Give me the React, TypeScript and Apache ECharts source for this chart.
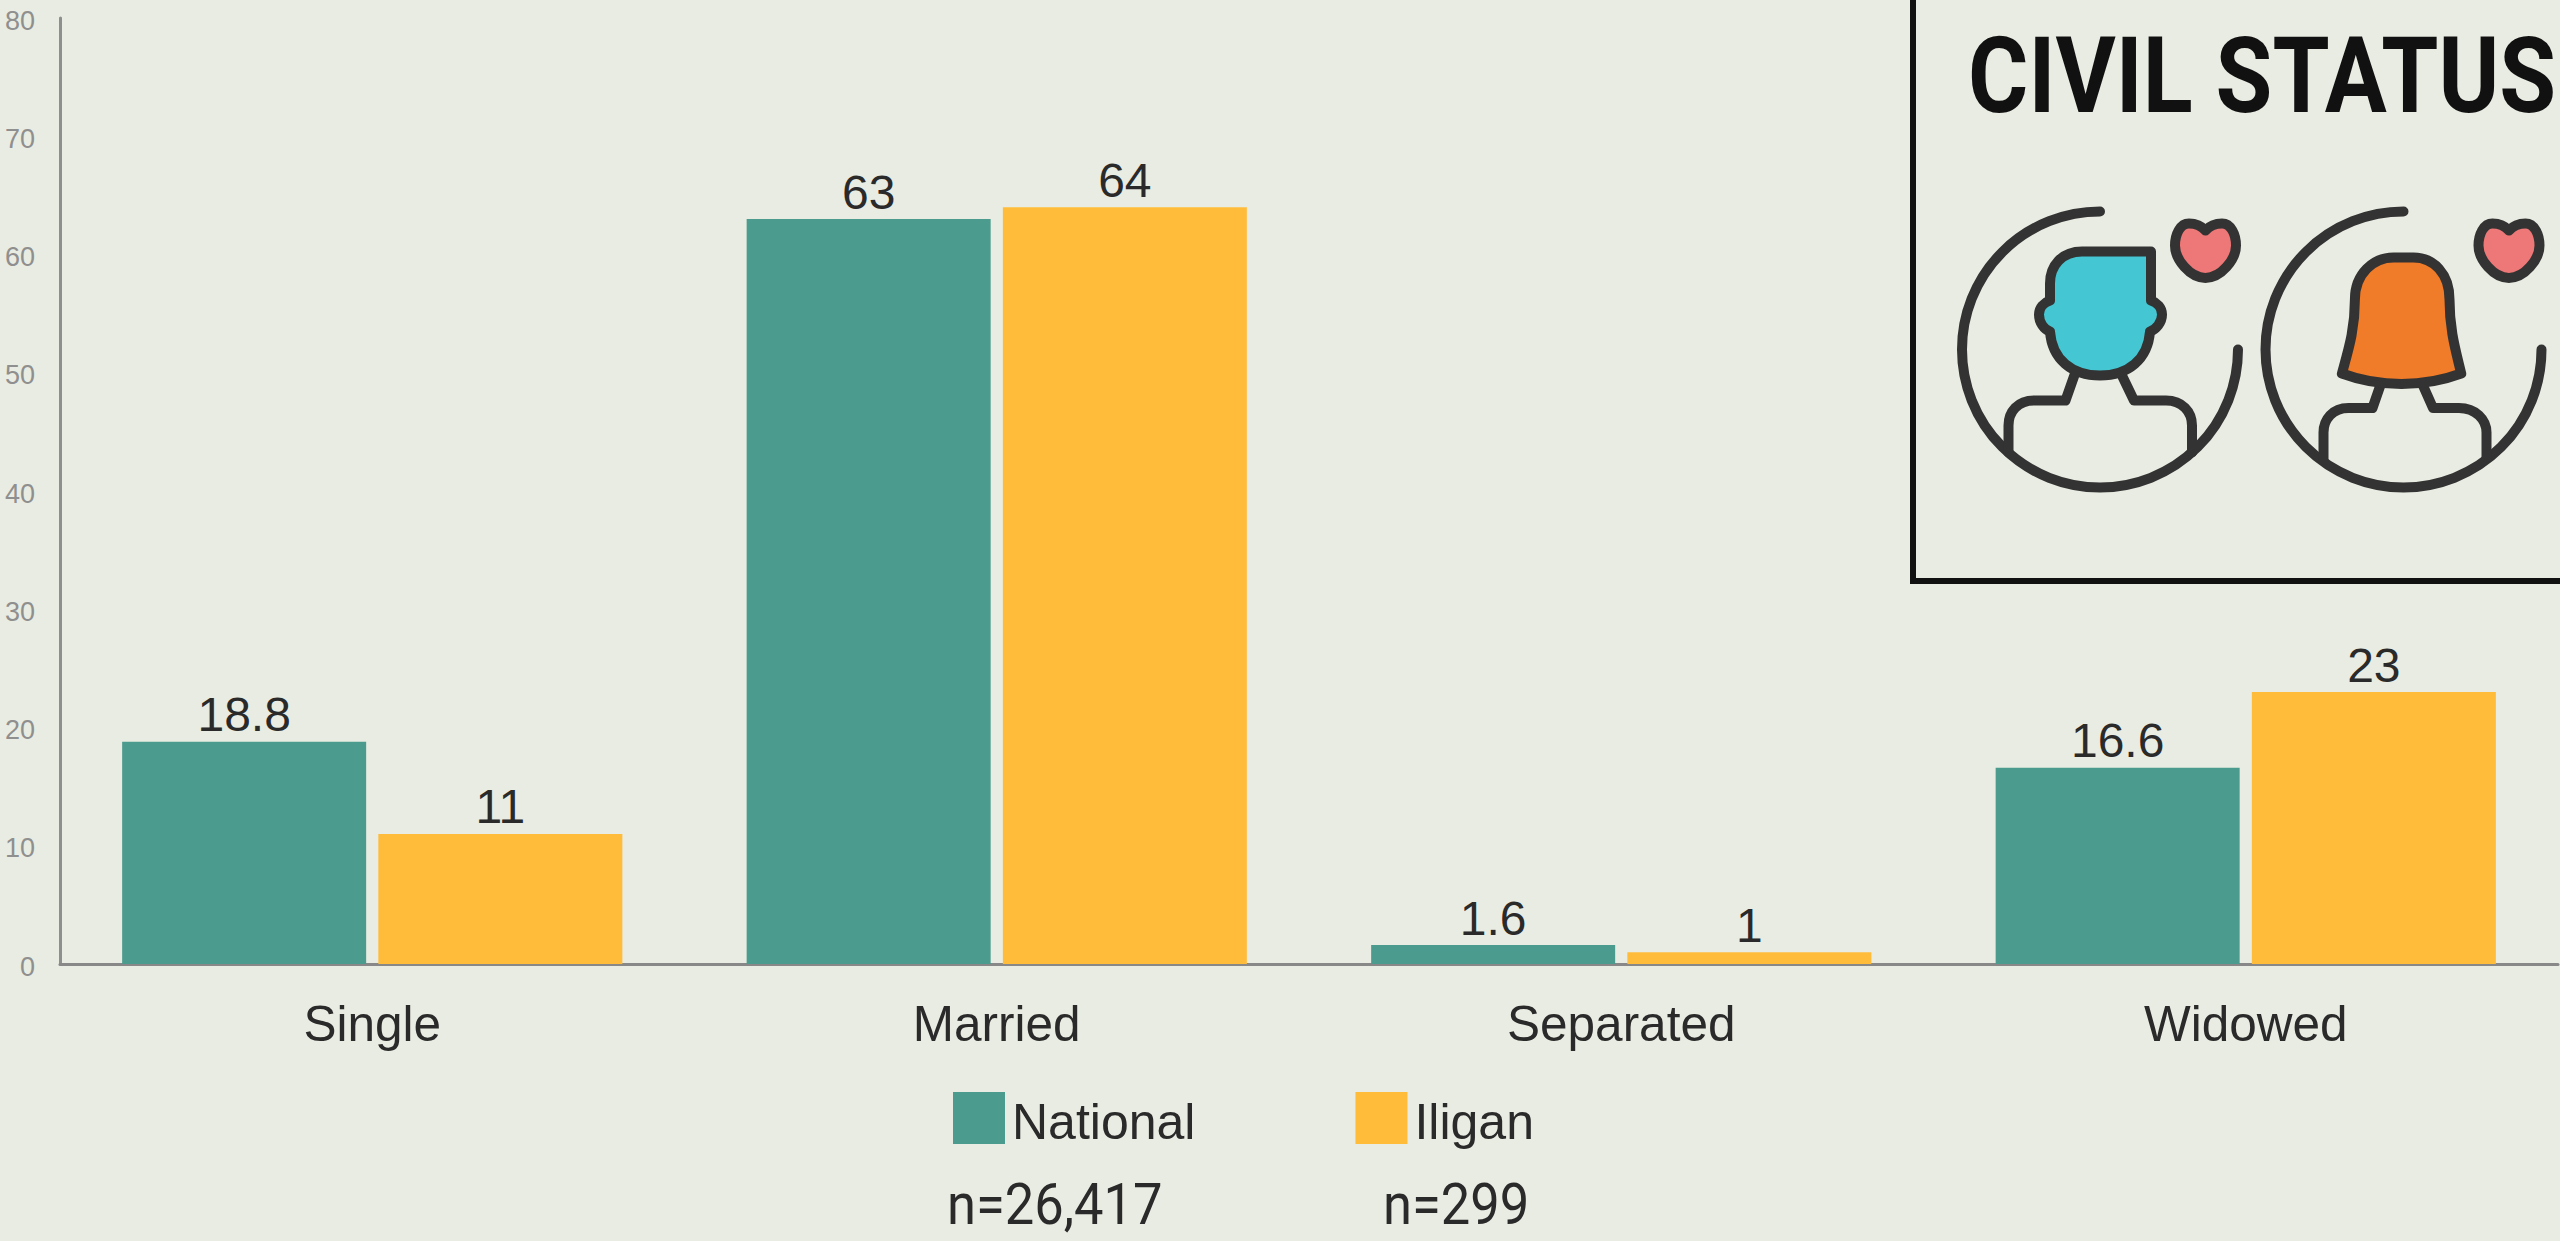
import React, { useEffect, useRef } from "react";
import * as echarts from "echarts";

const categories = ["Single", "Married", "Separated", "Widowed"];
const nationalValues = [18.8, 63, 1.6, 16.6];
const iliganValues = [11, 64, 1, 23];
const seriesNames = ["National", "Iligan"];
const sampleLabels = ["n=26,417", "n=299"];
const titleText = "CIVIL STATUS";

const BG = "#E9ECE2";
const TEAL = "#4B9C8E";
const YELLOW = "#FFBC3A";
const INK = "#333333";

const ring = "M0 -138 A138 138 0 1 0 138 0";
const heart = "M105.4 -119 C101 -124 95 -126 89 -126 C80 -126 75 -115 75 -104 C75 -90 90 -71.6 105.4 -71.6 C121 -71.6 136 -90 136 -104 C136 -115 131 -126 122 -126 C116 -126 110 -124 105.4 -119 Z";
const manHead = "M51 -98 L-18 -98 C-38 -98 -50 -84 -50 -66 L-50 -49 C-56 -47 -61 -42 -61 -35 C-61 -27 -56 -20 -50 -18 C-48 10 -28 26 0 26 C28 26 48 10 50 -18 C56 -20 62 -27 62 -35 C62 -42 57 -47 51 -49 Z";
const manBody = "M-25 24 L-34.5 51 L-66 51 C-82 51 -91.5 62 -91.5 76 L-91.5 103 M21 24 L34 51 L66 51 C82 51 92 62 92 76 L92 103";
const womanHair = "M-48.6 -50 C-48.6 -76 -30 -92 -10 -92 L10 -92 C30 -92 46 -76 46 -50 C46 -20 52 0 57.7 24 C20 38 -24 38 -61.6 24 C-55 0 -48.6 -20 -48.6 -50 Z";
const womanBody = "M-22.5 34 L-31 58.5 L-55 58.5 C-71 58.5 -80 70 -80 83 L-80 110 M18.6 34 L29.5 58.5 L55.5 58.5 C72 58.5 83 70 83 83 L83 108";

const shapes: Record<string, string> = {
  iconRing: ring,
  iconHeart: heart,
  iconManHead: manHead,
  iconManBody: manBody,
  iconWomanHair: womanHair,
  iconWomanBody: womanBody,
};
Object.keys(shapes).forEach((name) => {
  echarts.graphic.registerShape(name, echarts.graphic.extendPath(shapes[name], {}));
});

function icon(cx: number, cy: number, parts: [string, string][]) {
  return {
    type: "group",
    x: cx,
    y: cy,
    silent: true,
    children: parts.map(([type, fill]) => ({
      type,
      style: { fill, stroke: INK, lineWidth: 10, lineCap: "round", lineJoin: "round" },
    })),
  };
}

export default function App() {
  const ref = useRef<HTMLDivElement>(null);
  useEffect(() => {
    document.body.style.margin = "0";
    document.body.style.background = BG;
    const chart = echarts.init(ref.current!, undefined, { renderer: "svg" });
    const labelStyle = {
      show: true,
      position: "top" as const,
      distance: 3,
      fontSize: 48,
      color: "#2a2a2a",
      fontFamily: "Liberation Sans",
    };
    chart.setOption({
      animation: false,
      backgroundColor: BG,
      grid: { left: 60, top: 18, width: 2498, height: 946, containLabel: false },
      legend: {
        left: 948,
        top: 1087,
        itemWidth: 52,
        itemHeight: 52,
        itemGap: 160,
        icon: "rect",
        selectedMode: false,
        data: seriesNames,
        formatter: (name: string) => `{a|${name}}`,
        textStyle: {
          rich: {
            a: {
              fontSize: 50,
              color: "#2a2a2a",
              fontFamily: "Liberation Sans",
              padding: [8, 0, 0, 2],
            },
          },
        },
      },
      xAxis: {
        type: "category",
        data: categories,
        axisTick: { show: false },
        axisLine: { lineStyle: { color: "#888888", width: 3 } },
        axisLabel: { fontSize: 49.5, color: "#2a2a2a", fontFamily: "Liberation Sans", margin: 34 },
      },
      yAxis: {
        type: "value",
        min: 0,
        max: 80,
        interval: 10,
        splitLine: { show: false },
        axisTick: { show: false },
        axisLine: { show: true, lineStyle: { color: "#8e8e8e", width: 3 } },
        axisLabel: {
          margin: 25,
          formatter: (v: number) => `{t|${v}}`,
          rich: {
            t: {
              fontSize: 27,
              color: "#8f8f8f",
              fontFamily: "Liberation Sans",
              padding: [5, 0, 0, 0],
            },
          },
        },
      },
      series: [
        {
          name: seriesNames[0],
          type: "bar",
          data: nationalValues,
          barWidth: 244,
          barGap: "5%",
          itemStyle: { color: TEAL },
          label: labelStyle,
        },
        {
          name: seriesNames[1],
          type: "bar",
          data: iliganValues,
          barWidth: 244,
          itemStyle: { color: YELLOW },
          label: labelStyle,
        },
      ],
      graphic: [
        {
          type: "rect",
          silent: true,
          shape: { x: 1913, y: -20, width: 700, height: 601 },
          style: { fill: "transparent", stroke: "#111111", lineWidth: 6 },
        },
        {
          type: "text",
          silent: true,
          x: 1968,
          y: 23,
          scaleX: 0.871,
          style: {
            text: titleText,
            fontFamily: "Roboto",
            fontWeight: "bold",
            fontSize: 106,
            fill: "#111111",
            verticalAlign: "top",
          },
        },
        icon(2100, 349.5, [
          ["iconRing", "transparent"],
          ["iconManBody", "transparent"],
          ["iconManHead", "#45C6D3"],
          ["iconHeart", "#EE7777"],
        ]),
        icon(2403.5, 349.5, [
          ["iconRing", "transparent"],
          ["iconWomanBody", "transparent"],
          ["iconWomanHair", "#F07B28"],
          ["iconHeart", "#EE7777"],
        ]),
        {
          type: "text",
          silent: true,
          x: 947,
          y: 1177,
          scaleX: 0.905,
          style: { text: sampleLabels[0], fontFamily: "Roboto", fontSize: 58, lineHeight: 55, fill: "#2a2a2a" },
        },
        {
          type: "text",
          silent: true,
          x: 1383,
          y: 1177,
          scaleX: 0.905,
          style: { text: sampleLabels[1], fontFamily: "Roboto", fontSize: 58, lineHeight: 55, fill: "#2a2a2a" },
        },
      ],
    });
    return () => chart.dispose();
  }, []);
  return <div ref={ref} style={{ position: "fixed", left: 0, top: 0, width: 2560, height: 1241 }} />;
}
